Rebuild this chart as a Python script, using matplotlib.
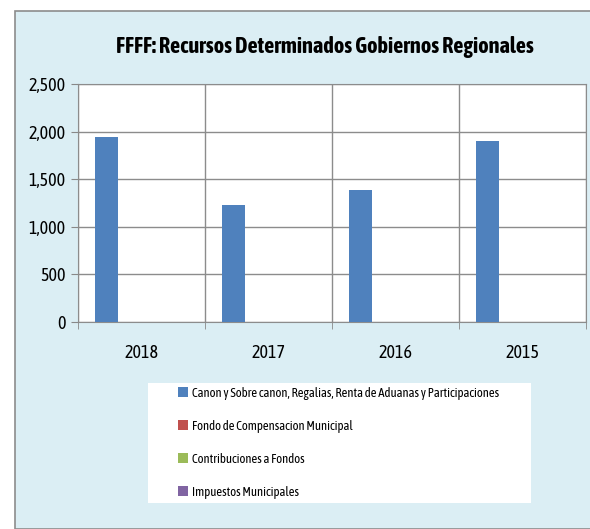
import matplotlib.pyplot as plt
from matplotlib import font_manager
from matplotlib.patches import Rectangle
import numpy as np

years = ['2018', '2017', '2016', '2015']
series = ['Canon y Sobre canon, Regalias, Renta de Aduanas y Participaciones',
          'Fondo de Compensacion Municipal',
          'Contribuciones a Fondos',
          'Impuestos Municipales']
canon = [1943, 1229, 1387, 1901]
fondo = [0, 0, 0, 0]
contrib = [0, 0, 0, 0]
impuestos = [0, 0, 0, 0]
colors = ['#4F81BD', '#C0504D', '#9BBB59', '#8064A2']

# pick a narrow face (with a bold weight) if one is installed, Calibri-like look
wts = {}
for f in font_manager.fontManager.ttflist:
    w = f.weight if isinstance(f.weight, int) else font_manager.weight_dict.get(f.weight, 400)
    wts.setdefault(f.name, set()).add(w)
narrow = sorted(n for n in wts if ('Narrow' in n or 'Condensed' in n)
                and 400 in wts[n] and max(wts[n]) >= 700)
fam = narrow[0] if narrow else 'Liberation Sans'
plt.rcParams['font.family'] = [fam, 'DejaVu Sans']

fig = plt.figure(figsize=(5.9, 5.29), dpi=100, facecolor='white')
fig.patches.append(Rectangle((15 / 590, 0), 1, 1 - 11 / 529, transform=fig.transFigure,
                             facecolor='#DBEEF4', edgecolor='#8C8C8C', lw=1.2, zorder=-5))
# white legend box
fig.patches.append(Rectangle((148 / 590, 1 - 503 / 529), 383 / 590, 120 / 529,
                             transform=fig.transFigure, facecolor='white', edgecolor='none',
                             zorder=-4))

ax = fig.add_axes([78 / 590, 1 - 322 / 529, 508 / 590, 238 / 529])
ax.set_facecolor('white')

x = np.arange(len(years))
bw = 1 / 5.5
for i, (vals, lab) in enumerate(zip([canon, fondo, contrib, impuestos], series)):
    ax.bar(x - 1.5 * bw + i * bw, vals, bw, color=colors[i], label=lab, zorder=3)

ax.set_xlim(-0.5, 3.5)
ax.set_ylim(0, 2500)
ax.set_yticks(range(0, 2501, 500))
ax.set_yticklabels(['{:,}'.format(v) for v in range(0, 2501, 500)])
ax.set_xticks(x)
ax.set_xticklabels(years)
ax.set_xticks(np.arange(-0.5, 3.6, 1), minor=True)
ax.tick_params(axis='x', which='major', length=0, pad=16)
ax.tick_params(axis='x', which='minor', length=5, color='#888888')
ax.tick_params(axis='y', length=5, color='#888888', pad=4)
ax.grid(True, axis='y', color='#8C8C8C', lw=1, zorder=1)
ax.grid(True, axis='x', which='minor', color='#8C8C8C', lw=1, zorder=1)
for s in ax.spines.values():
    s.set_color('#8C8C8C')

title = fig.text(325 / 590, 1 - 47 / 529, 'FFFF: Recursos Determinados Gobiernos Regionales',
                 ha='center', va='center', fontsize=17, fontweight='bold')

leg = fig.legend(loc='center left', bbox_to_anchor=(178 / 590, 1 - 443 / 529),
                 fontsize=10, frameon=False,
                 handlelength=0.7, handleheight=0.7, handletextpad=0.3,
                 labelspacing=1.45, borderpad=0, borderaxespad=0)

# shrink text to the widths measured on the reference
r = fig.canvas.get_renderer()


def fit(t, target, maxsize):
    t.set_fontsize(maxsize)
    w = t.get_window_extent(r).width
    if w > target:
        t.set_fontsize(maxsize * target / w)
    return t.get_fontsize()


fit(title, 419, 17)
ls = fit(leg.get_texts()[0], 311, 10.5)
for t in leg.get_texts():
    t.set_fontsize(ls)
ts = fit(ax.get_yticklabels()[-1], 37, 13)
ax.tick_params(labelsize=ts)

fig.savefig('out.png', dpi=100)
